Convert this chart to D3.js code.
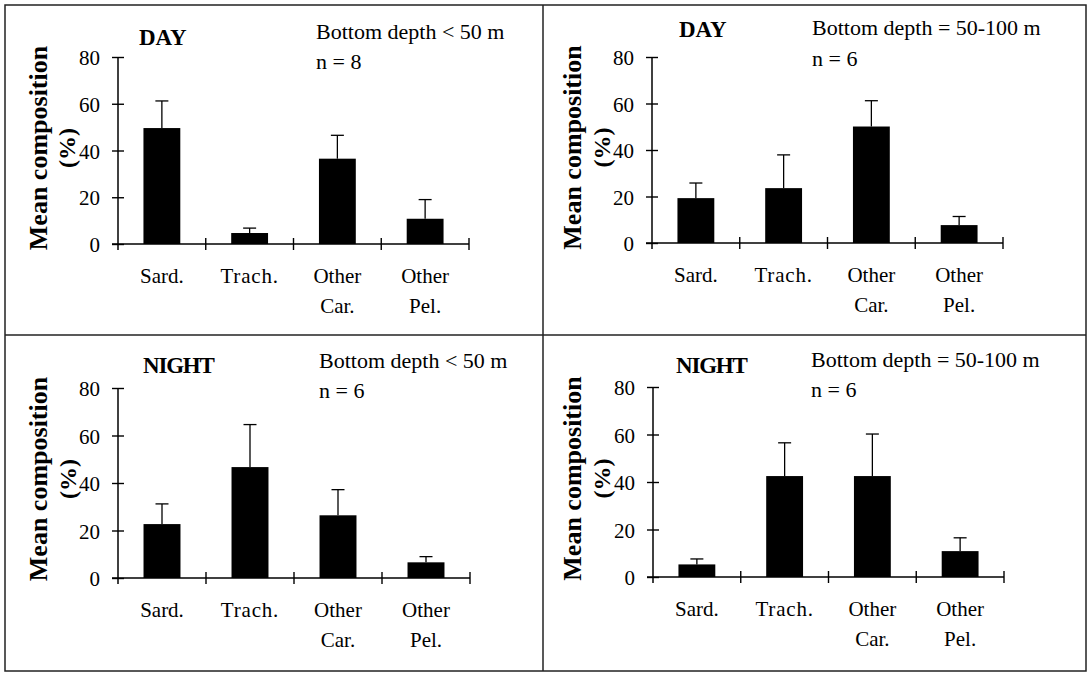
<!DOCTYPE html>
<html>
<head>
<meta charset="utf-8">
<script src="https://cdn.jsdelivr.net/npm/d3@7"></script>
<style>
  html, body { margin: 0; padding: 0; background: #fff; }
  svg { display: block; }
  text { font-family: "Liberation Serif", "Times New Roman", serif; fill: #000; }
</style>
</head>
<body>
<div id="chart"></div>
<script>
// Categories (label lines) and y ticks
const categories = ["Sard.", "Trach.", "Other Car.", "Other Pel."];
const categoryLines = [["Sard."], ["Trach."], ["Other", "Car."], ["Other", "Pel."]];
const yTicks = [0, 20, 40, 60, 80];

// Mean composition (%) and standard error
const dayShallowMean = [49.6, 4.7, 36.5, 10.8];
const dayShallowErr = [11.6, 2.1, 10.0, 8.2];
const dayDeepMean = [19.3, 23.6, 50.1, 7.7];
const dayDeepErr = [6.5, 14.3, 11.1, 3.7];
const nightShallowMean = [22.7, 46.7, 26.4, 6.6];
const nightShallowErr = [8.5, 17.9, 10.8, 2.4];
const nightDeepMean = [5.3, 42.5, 42.5, 10.9];
const nightDeepErr = [2.3, 14.0, 17.7, 5.6];

const titles = ["DAY", "DAY", "NIGHT", "NIGHT"];
const depthLabels = ["Bottom depth < 50 m", "Bottom depth = 50-100 m", "Bottom depth < 50 m", "Bottom depth = 50-100 m"];
const sampleLabels = ["n = 8", "n = 6", "n = 6", "n = 6"];

const width = 1089, height = 674;

// panel layout (page pixels)
const panels = [
    { mean: dayShallowMean, err: dayShallowErr, x0: 118, x1: 469, yTop: 57, yBot: 244,
      tx: 139, ty: 45, dx: 316, dy: 39, ny: 69, lab1: 47, lab2: 75, labY: 148 },
    { mean: dayDeepMean, err: dayDeepErr, x0: 652, x1: 1003, yTop: 57, yBot: 243,
      tx: 679, ty: 37, dx: 812, dy: 35, ny: 66, lab1: 581, lab2: 610, labY: 147.5 },
    { mean: nightShallowMean, err: nightShallowErr, x0: 118, x1: 470, yTop: 388, yBot: 578,
      tx: 143, ty: 373, dx: 319, dy: 368, ny: 398, lab1: 47, lab2: 76, labY: 479 },
    { mean: nightDeepMean, err: nightDeepErr, x0: 653, x1: 1004, yTop: 387, yBot: 577,
      tx: 676, ty: 373, dx: 811, dy: 367, ny: 397, lab1: 581, lab2: 610, labY: 478.5 }
];

const svg = d3.select("#chart").append("svg")
    .attr("width", width)
    .attr("height", height);

// frame and dividers
const frame = svg.append("g").attr("stroke", "#222").attr("stroke-width", 1.5).attr("fill", "none");
frame.append("rect").attr("x", 5).attr("y", 5).attr("width", 1081).attr("height", 666);
frame.append("line").attr("x1", 543).attr("x2", 543).attr("y1", 5).attr("y2", 671);
frame.append("line").attr("x1", 5).attr("x2", 1086).attr("y1", 335).attr("y2", 335);

panels.forEach((p, pi) => {
    const g = svg.append("g");

    const x = d3.scaleBand()
        .domain(categories)
        .range([p.x0, p.x1])
        .paddingInner(0.58)
        .paddingOuter(0.29);
    const y = d3.scaleLinear()
        .domain([0, 80])
        .range([p.yBot, p.yTop]);
    const step = x.step();
    const tick = 6;

    // y axis
    const yAxis = g.append("g")
        .attr("transform", `translate(${p.x0},0)`)
        .call(d3.axisLeft(y).tickValues(yTicks).tickSizeOuter(0).tickPadding(12));
    yAxis.select(".domain").remove();
    yAxis.selectAll(".tick line")
        .attr("x1", -tick).attr("x2", tick)
        .attr("stroke", "#000").attr("stroke-width", 1.4);
    yAxis.selectAll(".tick text")
        .attr("font-size", 21)
        .attr("font-family", "Liberation Serif, serif")
        .attr("dy", "0.36em");
    g.append("line")
        .attr("x1", p.x0).attr("x2", p.x0)
        .attr("y1", y(80)).attr("y2", y(0) + tick)
        .attr("stroke", "#000").attr("stroke-width", 1.5);

    // x axis with ticks between categories
    g.append("line")
        .attr("x1", p.x0 - tick).attr("x2", p.x1)
        .attr("y1", y(0)).attr("y2", y(0))
        .attr("stroke", "#000").attr("stroke-width", 1.5);
    g.selectAll(".xtick")
        .data(categories)
        .enter()
        .append("line")
        .attr("x1", d => x(d) + x.bandwidth() / 2 + step / 2)
        .attr("x2", d => x(d) + x.bandwidth() / 2 + step / 2)
        .attr("y1", y(0) - tick).attr("y2", y(0) + tick)
        .attr("stroke", "#000").attr("stroke-width", 1.4);

    // category labels
    categories.forEach((c, i) => {
        categoryLines[i].forEach((line, li) => {
            g.append("text")
                .attr("x", x(c) + x.bandwidth() / 2)
                .attr("y", y(0) + 39 + li * 30)
                .attr("text-anchor", "middle")
                .attr("font-size", 21)
                .attr("letter-spacing", line === "Trach." ? "0.8px" : null)
                .text(line);
        });
    });

    const data = categories.map((c, i) => ({ c, v: p.mean[i], e: p.err[i] }));

    // error bars (drawn under bars)
    const eb = g.selectAll(".err").data(data).enter().append("g")
        .attr("stroke", "#000").attr("stroke-width", 1.3);
    eb.append("line")
        .attr("x1", d => x(d.c) + x.bandwidth() / 2)
        .attr("x2", d => x(d.c) + x.bandwidth() / 2)
        .attr("y1", d => y(d.v))
        .attr("y2", d => y(d.v + d.e));
    eb.append("line")
        .attr("x1", d => x(d.c) + x.bandwidth() / 2 - 6.5)
        .attr("x2", d => x(d.c) + x.bandwidth() / 2 + 6.5)
        .attr("y1", d => y(d.v + d.e))
        .attr("y2", d => y(d.v + d.e));

    // bars
    g.selectAll(".bar").data(data).enter().append("rect")
        .attr("x", d => x(d.c))
        .attr("width", x.bandwidth())
        .attr("y", d => y(d.v))
        .attr("height", d => y(0) - y(d.v))
        .attr("fill", "#000");

    // title and annotations
    g.append("text")
        .attr("x", p.tx).attr("y", p.ty)
        .attr("font-size", 23)
        .attr("font-weight", "bold")
        .attr("letter-spacing", titles[pi] === "NIGHT" ? "-1.2px" : null)
        .text(titles[pi]);
    g.append("text")
        .attr("x", p.dx).attr("y", p.dy)
        .attr("font-size", 22)
        .text(depthLabels[pi]);
    g.append("text")
        .attr("x", p.dx).attr("y", p.ny)
        .attr("font-size", 22)
        .text(sampleLabels[pi]);

    // y axis title, two lines
    g.append("text")
        .attr("transform", `translate(${p.lab1},${p.labY}) rotate(-90)`)
        .attr("text-anchor", "middle")
        .attr("font-size", 26)
        .attr("font-weight", "bold")
        .text("Mean composition");
    g.append("text")
        .attr("transform", `translate(${p.lab2},${p.labY}) rotate(-90)`)
        .attr("text-anchor", "middle")
        .attr("font-size", 24)
        .attr("font-weight", "bold")
        .text("(%)");
});
</script>
</body>
</html>
